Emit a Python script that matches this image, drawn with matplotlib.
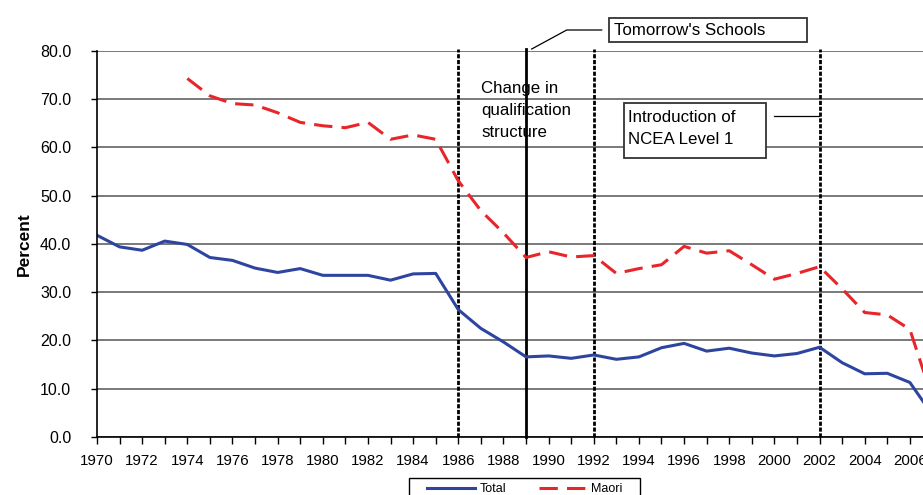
import matplotlib.pyplot as plt
from matplotlib.lines import Line2D
from matplotlib.patches import Rectangle

plt.rcParams['font.family'] = ['Liberation Sans', 'DejaVu Sans']

years = list(range(1970, 2008))
total = [41.8, 39.4, 38.7, 40.6, 39.9, 37.2, 36.6, 35.0, 34.1, 34.9,
         33.5, 33.5, 33.5, 32.5, 33.8, 33.9, 26.4, 22.5, 19.7, 16.6,
         16.8, 16.3, 17.0, 16.1, 16.6, 18.5, 19.4, 17.8, 18.4, 17.4,
         16.8, 17.3, 18.6, 15.4, 13.1, 13.2, 11.3, 4.6]
maori_years = list(range(1974, 2008))
maori = [74.3, 70.7, 69.1, 68.8, 67.2, 65.2, 64.5, 64.1, 65.2, 61.7,
         62.6, 61.7, 53.1, 46.9, 42.3, 37.2, 38.4, 37.3, 37.6, 33.9,
         34.9, 35.7, 39.5, 38.1, 38.6, 35.7, 32.7, 33.9, 35.3, 30.7,
         25.8, 25.3, 22.3, 8.0]
dotted_years = [1986, 1992, 2002]
solid_year = 1989
y_ticks = [0, 10, 20, 30, 40, 50, 60, 70, 80]

W, H = 923, 495


def px(x, y):
    # pixel position (from top-left) to figure fraction
    return x / W, 1 - y / H


fig = plt.figure(figsize=(9.23, 4.95), dpi=100)
ax = fig.add_axes([0.1051, 0.1172, 0.9296, 0.7798])

ax.set_xlim(1970, 2008)
ax.set_ylim(0, 80)
ax.set_yticks(y_ticks)
ax.set_yticklabels([f'{v:.1f}' for v in y_ticks], fontsize=11.5)
ax.set_xticks(years)
ax.set_xticklabels([str(y) if y % 2 == 0 else '' for y in years], fontsize=10.8)
ax.tick_params(axis='x', direction='out', length=5, width=1, pad=7)
ax.tick_params(axis='y', direction='out', length=4, width=1, pad=14.5)

for s in ['top', 'right']:
    ax.spines[s].set_visible(False)
ax.spines['left'].set_linewidth(1.2)
ax.spines['bottom'].set_linewidth(1.2)

ax.grid(axis='y', color='#555555', linewidth=1.1)
ax.set_axisbelow(True)

for yr in dotted_years:
    ax.axvline(yr, ymax=1.006, color='black', linestyle=(0, (1.5, 0.6)), linewidth=2.0, clip_on=False)
ax.axvline(solid_year, ymax=1.004, color='black', linewidth=2.0, clip_on=False)

ax.plot(years, total, color='#2E45A0', linewidth=2.2, label='Total')
ax.plot(maori_years, maori, color='#E8262A', linewidth=2.2, dashes=(6, 3), label='Maori')

ax.set_ylabel('Percent', fontsize=12.5, fontweight='bold', labelpad=6)

# annotations
fig.text(*px(481, 110.5), 'Change in\nqualification\nstructure', fontsize=12.2,
         va='center', ha='left', linespacing=1.58)

fig.add_artist(Rectangle(px(609, 42), 198 / W, 24 / H, transform=fig.transFigure,
                         facecolor='white', edgecolor='#333333', linewidth=1.3))
fig.text(*px(614, 30.5), "Tomorrow's Schools", fontsize=12.2, va='center', ha='left')
fig.add_artist(Line2D(*zip(px(601.7, 30), px(566.7, 30), px(531.7, 49)),
                      color='black', linewidth=0.9))

fig.add_artist(Rectangle(px(624, 158), 142 / W, 55 / H, transform=fig.transFigure,
                         facecolor='white', edgecolor='#333333', linewidth=1.3))
fig.text(*px(628, 128.5), 'Introduction of\nNCEA Level 1', fontsize=12.2,
         va='center', ha='left', linespacing=1.58)
fig.add_artist(Line2D(*zip(px(774, 116), px(819, 116)), color='black', linewidth=0.9))

# legend
fig.add_artist(Rectangle(px(409, 510), 231 / W, 32 / H, transform=fig.transFigure,
                         facecolor='white', edgecolor='black', linewidth=1.0))
leg = fig.legend(loc='center left', bbox_to_anchor=px(427, 489.5), ncol=2,
                 fontsize=9, frameon=False, handlelength=3.8, columnspacing=2.6,
                 borderpad=0, borderaxespad=0, handletextpad=0.4)

fig.savefig('out.png', dpi=100)
